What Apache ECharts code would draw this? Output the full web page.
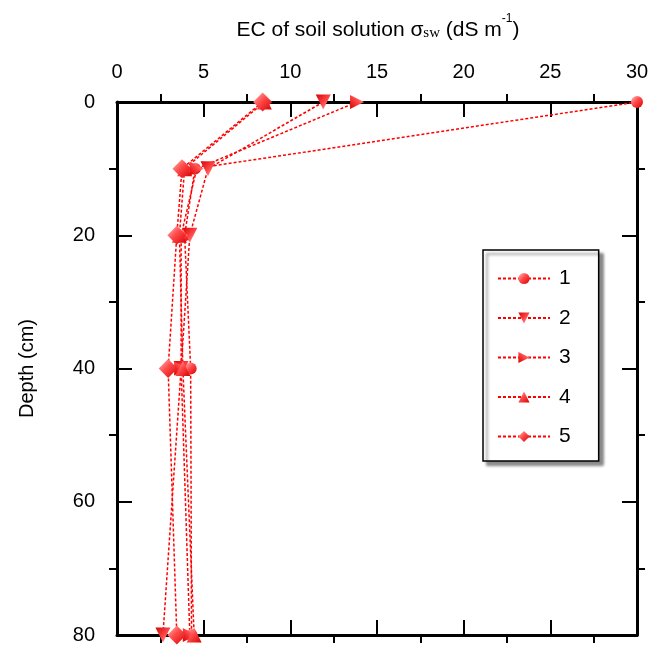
<!DOCTYPE html>
<html>
<head>
<meta charset="utf-8">
<script src="https://cdn.jsdelivr.net/npm/echarts@6/dist/echarts.min.js"></script>
<style>
  html, body { margin: 0; padding: 0; background: #fff; }
</style>
</head>
<body>
<!-- chart container -->
<div id="main" style="width: 652px; height: 648px;"></div>
<script>
// depth of each sample (cm)
var depths = [0, 10, 20, 40, 80]
// EC of soil solution (dS m-1), one list per profile
var ec1 = [30, 4.5, 3.9, 4.25, 4.3]
var ec2 = [11.9, 5.25, 4.2, 3.7, 2.65]
var ec3 = [13.85, 4.6, 3.7, 3.7, 4.2]
var ec4 = [8.5, 3.9, 3.6, 3.8, 4.45]
var ec5 = [8.4, 3.75, 3.45, 2.95, 3.45]
var seriesNames = ['1', '2', '3', '4', '5']
var xTicks = [0, 5, 10, 15, 20, 25, 30]
var yTicks = [0, 20, 40, 60, 80]

var fontName = 'Liberation Sans'
var red = '#ff0000'

function markerColor () {
  return {
    type: 'linear', x: 0, y: 0, x2: 1, y2: 1,
    colorStops: [
      { offset: 0, color: '#ffc0c0' },
      { offset: 0.45, color: '#ff4a4a' },
      { offset: 1, color: '#d80000' }
    ]
  }
}

function makeSeries (name, values, symbol, size, rotate) {
  return {
    name: name,
    type: 'line',
    data: values.map(function (v, i) { return [v, depths[i]] }),
    symbol: symbol,
    symbolSize: size,
    symbolRotate: rotate,
    showAllSymbol: true,
    clip: false,
    lineStyle: { color: red, width: 1.5, type: [3, 2] },
    itemStyle: { color: markerColor(), borderWidth: 0 },
    emphasis: { disabled: true }
  }
}

// frame axis: ticks point into the plot, minor ticks too (negative length)
function frameAxis (extra) {
  var ax = {
    type: 'value',
    axisLine: { show: true, onZero: false, lineStyle: { color: '#000', width: 3 } },
    axisTick: { show: true, inside: true, length: 15, lineStyle: { color: '#000', width: 2 } },
    minorTick: { show: true, splitNumber: 2, length: -8, lineStyle: { color: '#000', width: 2 } },
    axisLabel: { show: false },
    splitLine: { show: false },
    minorSplitLine: { show: false }
  }
  for (var k in extra) ax[k] = extra[k]
  return ax
}

var myChart = echarts.init(document.getElementById('main'))
var option = {
  animation: false,
  textStyle: { fontFamily: fontName },
  title: {
    text: '{a|EC of soil solution σ}{s|sw}{a| (dS m}{p|-1}{a|)}',
    left: 373,
    top: 8,
    textAlign: 'center',
    textStyle: {
      fontWeight: 'normal',
      rich: {
        a: { fontSize: 21, color: '#000', fontFamily: fontName, fontWeight: 'normal', verticalAlign: 'bottom', lineHeight: 28 },
        s: { fontSize: 15, color: '#000', fontFamily: 'Liberation Serif', fontWeight: 'normal', verticalAlign: 'bottom', lineHeight: 24 },
        p: { fontSize: 12, color: '#000', fontFamily: fontName, fontWeight: 'normal', verticalAlign: 'top', lineHeight: 18 }
      }
    }
  },
  legend: {
    orient: 'vertical',
    left: 483,
    top: 250,
    padding: [18, 28, 14, 14],
    itemWidth: 52,
    itemHeight: 14,
    itemGap: 18.5,
    data: seriesNames,
    backgroundColor: '#fff',
    borderColor: '#000',
    borderWidth: 1.5,
    shadowColor: 'rgba(0,0,0,0.45)',
    shadowBlur: 3,
    shadowOffsetX: 4,
    shadowOffsetY: 4,
    textStyle: { fontSize: 21, color: '#000', fontFamily: fontName, padding: [0, 0, 0, 4] }
  },
  grid: { left: 117, right: 15, top: 102, bottom: 13 },
  xAxis: [
    frameAxis({
      position: 'top',
      min: 0,
      max: 30,
      interval: 5,
      axisLabel: {
        show: true,
        fontSize: 20,
        color: '#000',
        margin: 20,
        formatter: function (v) { return xTicks.indexOf(v) >= 0 ? String(v) : '' }
      }
    }),
    frameAxis({ position: 'bottom', min: 0, max: 30, interval: 5 })
  ],
  yAxis: [
    frameAxis({
      position: 'left',
      inverse: true,
      min: 0,
      max: 80,
      interval: 20,
      name: 'Depth (cm)',
      nameLocation: 'middle',
      nameGap: 80,
      nameRotate: 90,
      nameTextStyle: { fontSize: 20, color: '#000', fontFamily: fontName },
      axisLabel: {
        show: true,
        fontSize: 20,
        color: '#000',
        margin: 22,
        formatter: function (v) { return yTicks.indexOf(v) >= 0 ? String(v) : '' }
      }
    }),
    frameAxis({ position: 'right', inverse: true, min: 0, max: 80, interval: 20 })
  ],
  series: [
    makeSeries('1', ec1, 'circle', 12, 0),
    makeSeries('2', ec2, 'triangle', 15, 180),
    makeSeries('3', ec3, 'triangle', 14, -90),
    makeSeries('4', ec4, 'triangle', 15, 0),
    makeSeries('5', ec5, 'diamond', 19, 0)
  ]
}
myChart.setOption(option)
</script>
</body>
</html>
